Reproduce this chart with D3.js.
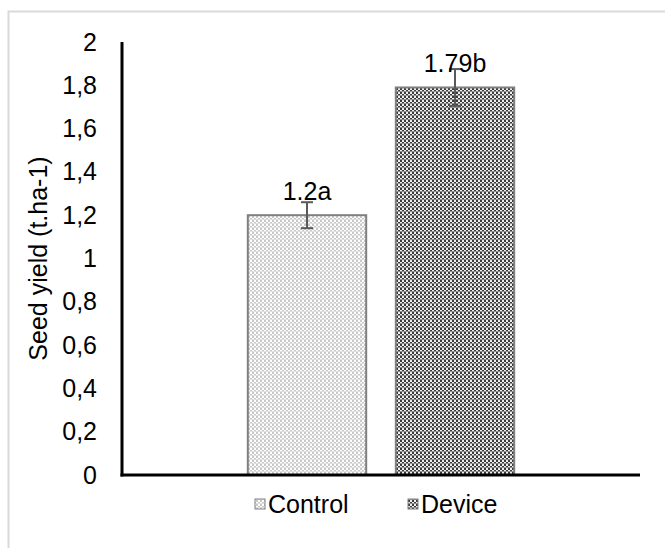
<!DOCTYPE html>
<html><head><meta charset="utf-8">
<script src="https://cdn.jsdelivr.net/npm/d3@7"></script>
<style>body{margin:0;background:#fff}svg{display:block;font-family:"Liberation Sans",Arial,sans-serif}</style>
</head><body><svg id="c" width="665" height="548"></svg>
<script>
const categories = ["Control", "Device"];
const values = [1.2, 1.79];
const errors = [0.06, 0.085];
const labels = ["1.2a", "1.79b"];
const yTicks = [0, 0.2, 0.4, 0.6, 0.8, 1, 1.2, 1.4, 1.6, 1.8, 2];
const yTitle = "Seed yield (t.ha-1)";

const svg = d3.select("#c");
const defs = svg.append("defs");
// light checkerboard
const p1 = defs.append("pattern").attr("id","pLight").attr("width",4).attr("height",4).attr("patternUnits","userSpaceOnUse");
p1.append("rect").attr("width",4).attr("height",4).attr("fill","#ffffff");
p1.append("rect").attr("x",0).attr("y",0).attr("width",2).attr("height",2).attr("fill","#c8c8c8");
p1.append("rect").attr("x",2).attr("y",2).attr("width",2).attr("height",2).attr("fill","#c8c8c8");
p1.append("rect").attr("x",0).attr("y",3).attr("width",4).attr("height",1).attr("fill","#e0e0e0");
// dark checkerboard
const p2 = defs.append("pattern").attr("id","pDark").attr("width",4).attr("height",4).attr("patternUnits","userSpaceOnUse");
p2.append("rect").attr("width",4).attr("height",4).attr("fill","#f0f0f0");
p2.append("rect").attr("x",0).attr("y",0).attr("width",2).attr("height",2).attr("fill","#3a3a3a");
p2.append("rect").attr("x",2).attr("y",2).attr("width",2).attr("height",2).attr("fill","#3a3a3a");
p2.append("rect").attr("x",0).attr("y",3).attr("width",4).attr("height",1).attr("fill","#909090");
const fills = ["url(#pLight)", "url(#pDark)"];

// chart border
svg.append("rect").attr("x",8.5).attr("y",11.5).attr("width",700).attr("height",600)
  .attr("fill","none").attr("stroke","#d9d9d9").attr("stroke-width",2);

const x0 = 122, x1 = 640, yTop = 42, yBot = 475;
const y = d3.scaleLinear().domain([0,2]).range([yBot,yTop]);
const x = d3.scaleBand().domain(categories).range([x0,x1]).paddingInner(0.2).paddingOuter(0.85);

// y axis
const yAxis = d3.axisLeft(y).tickValues(yTicks).tickSize(0).tickPadding(25)
  .tickFormat(d => String(d).replace(".", ","));
const gy = svg.append("g").attr("transform",`translate(${x0},0)`).call(yAxis);
gy.select(".domain").remove();
gy.selectAll("text").attr("font-size",25).attr("fill","#000").attr("font-family","Liberation Sans, Arial, sans-serif");

// bars
svg.selectAll(".bar").data(categories).enter().append("rect")
  .attr("x", d => x(d)).attr("y", (d,i) => y(values[i]))
  .attr("width", x.bandwidth()).attr("height", (d,i) => yBot - y(values[i]))
  .attr("fill", (d,i) => fills[i]).attr("stroke","#808080").attr("stroke-width",2);

// error bars
const eg = svg.append("g").attr("stroke","#595959").attr("stroke-width",2);
categories.forEach((c,i) => {
  const cx = x(c) + x.bandwidth()/2;
  eg.append("line").attr("x1",cx).attr("x2",cx).attr("y1",y(values[i]+errors[i])).attr("y2",y(values[i]-errors[i]));
  eg.append("line").attr("x1",cx-6).attr("x2",cx+6).attr("y1",y(values[i]+errors[i])).attr("y2",y(values[i]+errors[i]));
  eg.append("line").attr("x1",cx-6).attr("x2",cx+6).attr("y1",y(values[i]-errors[i])).attr("y2",y(values[i]-errors[i]));
});

// value labels
svg.selectAll(".lbl").data(categories).enter().append("text")
  .attr("x", d => x(d) + x.bandwidth()/2)
  .attr("y", (d,i) => y(values[i]) - 15)
  .attr("text-anchor","middle").attr("font-size",25).attr("fill","#000")
  .text((d,i) => labels[i]);

// axes lines
svg.append("line").attr("x1",x0).attr("x2",x0).attr("y1",yTop).attr("y2",yBot+1.5).attr("stroke","#000").attr("stroke-width",3);
svg.append("line").attr("x1",x0-1.5).attr("x2",x1).attr("y1",yBot).attr("y2",yBot).attr("stroke","#000").attr("stroke-width",3);

// y title
svg.append("text").attr("transform",`translate(47,${(yTop+yBot)/2}) rotate(-90)`)
  .attr("text-anchor","middle").attr("font-size",25).attr("fill","#000").text(yTitle);

// legend
const legX = [255, 408];
categories.forEach((c,i) => {
  svg.append("rect").attr("x",legX[i]).attr("y",499).attr("width",10).attr("height",10)
    .attr("fill",fills[i]).attr("stroke","#808080").attr("stroke-width",1);
  svg.append("text").attr("x",legX[i]+13).attr("y",513).attr("font-size",25).attr("fill","#000").text(c);
});
</script></body></html>
